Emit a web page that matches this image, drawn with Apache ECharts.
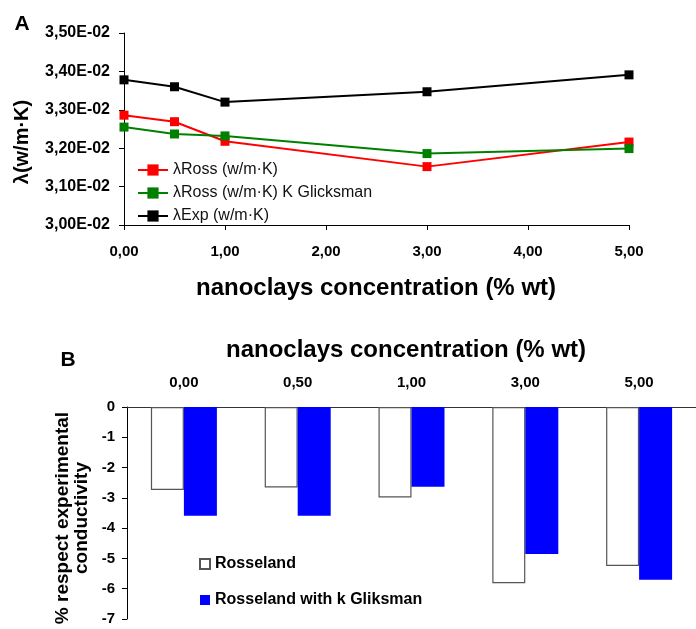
<!DOCTYPE html>
<html>
<head>
<meta charset="utf-8">
<script src="https://cdn.jsdelivr.net/npm/echarts@6/dist/echarts.min.js"></script>
<style>
  html, body { margin: 0; padding: 0; background: #fff; }
  #chart { width: 696px; height: 629px; }
</style>
</head>
<body>
<div id="chart"></div>
<script>
// panel A: conductivity vs nanoclay content
const concentrations = [0, 0.5, 1, 3, 5];
const rossValues = [0.03286, 0.03269, 0.03218, 0.03152, 0.03216];
const rossGlicksmanValues = [0.03255, 0.03237, 0.03232, 0.03186, 0.03199];
const expValues = [0.03378, 0.03360, 0.03320, 0.03347, 0.03391];

// panel B: % deviation from experimental
const categories = ['0,00', '0,50', '1,00', '3,00', '5,00'];
const rosselandDev = [-2.74, -2.66, -2.99, -5.82, -5.25];
const gliksmanDev = [-3.59, -3.59, -2.63, -4.85, -5.70];

const font = 'Liberation Sans, Arial, sans-serif';

const pairs = (ys) => concentrations.map((x, i) => [x, ys[i]]);
const lineSeries = (name, color, ys) => ({
    name: name,
    type: 'line',
    xAxisIndex: 0,
    yAxisIndex: 0,
    data: pairs(ys),
    symbol: 'rect',
    symbolSize: 9,
    lineStyle: { color: color, width: 2 },
    itemStyle: { color: color },
    emphasis: { disabled: true },
});

const chart = echarts.init(document.getElementById('chart'));

chart.setOption({
    animation: false,
    grid: [
        { left: 124, right: 67, top: 33, bottom: 404 },
        { left: 127, right: 0, top: 407, bottom: 10 },
    ],
    xAxis: [
        {
            gridIndex: 0,
            type: 'value',
            min: 0,
            max: 5,
            interval: 1,
            splitLine: { show: false },
            axisLine: { lineStyle: { color: '#000', width: 1 } },
            axisTick: { length: 5, lineStyle: { color: '#000' } },
            axisLabel: {
                margin: 19,
                color: '#000',
                fontFamily: font,
                fontWeight: 'bold',
                fontSize: 15,
                formatter: (v) => v.toFixed(2).replace('.', ','),
            },
        },
        {
            gridIndex: 1,
            type: 'category',
            position: 'top',
            data: categories,
            axisLine: { lineStyle: { color: '#333', width: 1 } },
            axisTick: { inside: true, length: 5, lineStyle: { color: '#000' } },
            axisLabel: {
                margin: 17,
                color: '#000',
                fontFamily: font,
                fontWeight: 'bold',
                fontSize: 15,
            },
        },
    ],
    yAxis: [
        {
            gridIndex: 0,
            type: 'value',
            min: 0.030,
            max: 0.035,
            interval: 0.001,
            splitLine: { show: false },
            axisLine: { show: true, lineStyle: { color: '#000', width: 1 } },
            axisTick: { show: true, length: 5, lineStyle: { color: '#000' } },
            axisLabel: {
                margin: 14,
                color: '#000',
                fontFamily: font,
                fontWeight: 'bold',
                fontSize: 16,
                formatter: (v) => (v * 100).toFixed(2).replace('.', ',') + 'E-02',
            },
        },
        {
            gridIndex: 1,
            type: 'value',
            min: -7,
            max: 0,
            interval: 1,
            splitLine: { show: false },
            axisLine: { show: true, lineStyle: { color: '#000', width: 1 } },
            axisTick: { show: true, length: 5, lineStyle: { color: '#000' } },
            axisLabel: {
                margin: 12,
                color: '#000',
                fontFamily: font,
                fontWeight: 'bold',
                fontSize: 15,
            },
        },
    ],
    legend: [
        {
            orient: 'vertical',
            left: 132,
            top: 157,
            itemWidth: 30,
            itemHeight: 14,
            itemGap: 7,
            data: ['λRoss (w/m·K)', 'λRoss (w/m·K) K Glicksman', 'λExp (w/m·K)'],
            textStyle: { fontFamily: font, fontSize: 16, color: '#111' },
        },
        {
            orient: 'vertical',
            left: 194,
            top: 551,
            icon: 'rect',
            itemWidth: 10,
            itemHeight: 10,
            itemGap: 20,
            data: ['Rosseland', 'Rosseland with k Gliksman'],
            textStyle: { fontFamily: font, fontSize: 16, fontWeight: 'bold', color: '#000' },
        },
    ],
    series: [
        lineSeries('λRoss (w/m·K)', '#ff0000', rossValues),
        lineSeries('λRoss (w/m·K) K Glicksman', '#008000', rossGlicksmanValues),
        lineSeries('λExp (w/m·K)', '#000000', expValues),
        {
            name: 'Rosseland',
            type: 'bar',
            xAxisIndex: 1,
            yAxisIndex: 1,
            data: rosselandDev,
            barGap: '0%',
            barCategoryGap: '42%',
            itemStyle: { color: '#ffffff', borderColor: '#555', borderWidth: 1.2 },
            emphasis: { disabled: true },
        },
        {
            name: 'Rosseland with k Gliksman',
            type: 'bar',
            xAxisIndex: 1,
            yAxisIndex: 1,
            data: gliksmanDev,
            barGap: '0%',
            barCategoryGap: '42%',
            itemStyle: { color: '#0000ff' },
            emphasis: { disabled: true },
        },
    ],
    graphic: [
        {
            type: 'text', x: 22, y: 24,
            style: { text: 'A', fontFamily: font, fontWeight: 'bold', fontSize: 21, fill: '#000', textAlign: 'center', textVerticalAlign: 'middle' },
        },
        {
            type: 'text', x: 22, y: 142, rotation: Math.PI / 2,
            style: { text: 'λ(w/m·K)', fontFamily: font, fontWeight: 'bold', fontSize: 20, fill: '#000', textAlign: 'center', textVerticalAlign: 'middle' },
        },
        {
            type: 'text', x: 376, y: 288,
            style: { text: 'nanoclays concentration (% wt)', fontFamily: font, fontWeight: 'bold', fontSize: 24, fill: '#000', textAlign: 'center', textVerticalAlign: 'middle' },
        },
        {
            type: 'text', x: 68, y: 360,
            style: { text: 'B', fontFamily: font, fontWeight: 'bold', fontSize: 21, fill: '#000', textAlign: 'center', textVerticalAlign: 'middle' },
        },
        {
            type: 'text', x: 406, y: 350,
            style: { text: 'nanoclays concentration (% wt)', fontFamily: font, fontWeight: 'bold', fontSize: 24, fill: '#000', textAlign: 'center', textVerticalAlign: 'middle' },
        },
        {
            type: 'text', x: 72, y: 518, rotation: Math.PI / 2,
            style: { text: '% respect experimental\nconductivity', fontFamily: font, fontWeight: 'bold', fontSize: 19, lineHeight: 19, fill: '#000', textAlign: 'center', textVerticalAlign: 'middle' },
        },
    ],
});
</script>
</body>
</html>
